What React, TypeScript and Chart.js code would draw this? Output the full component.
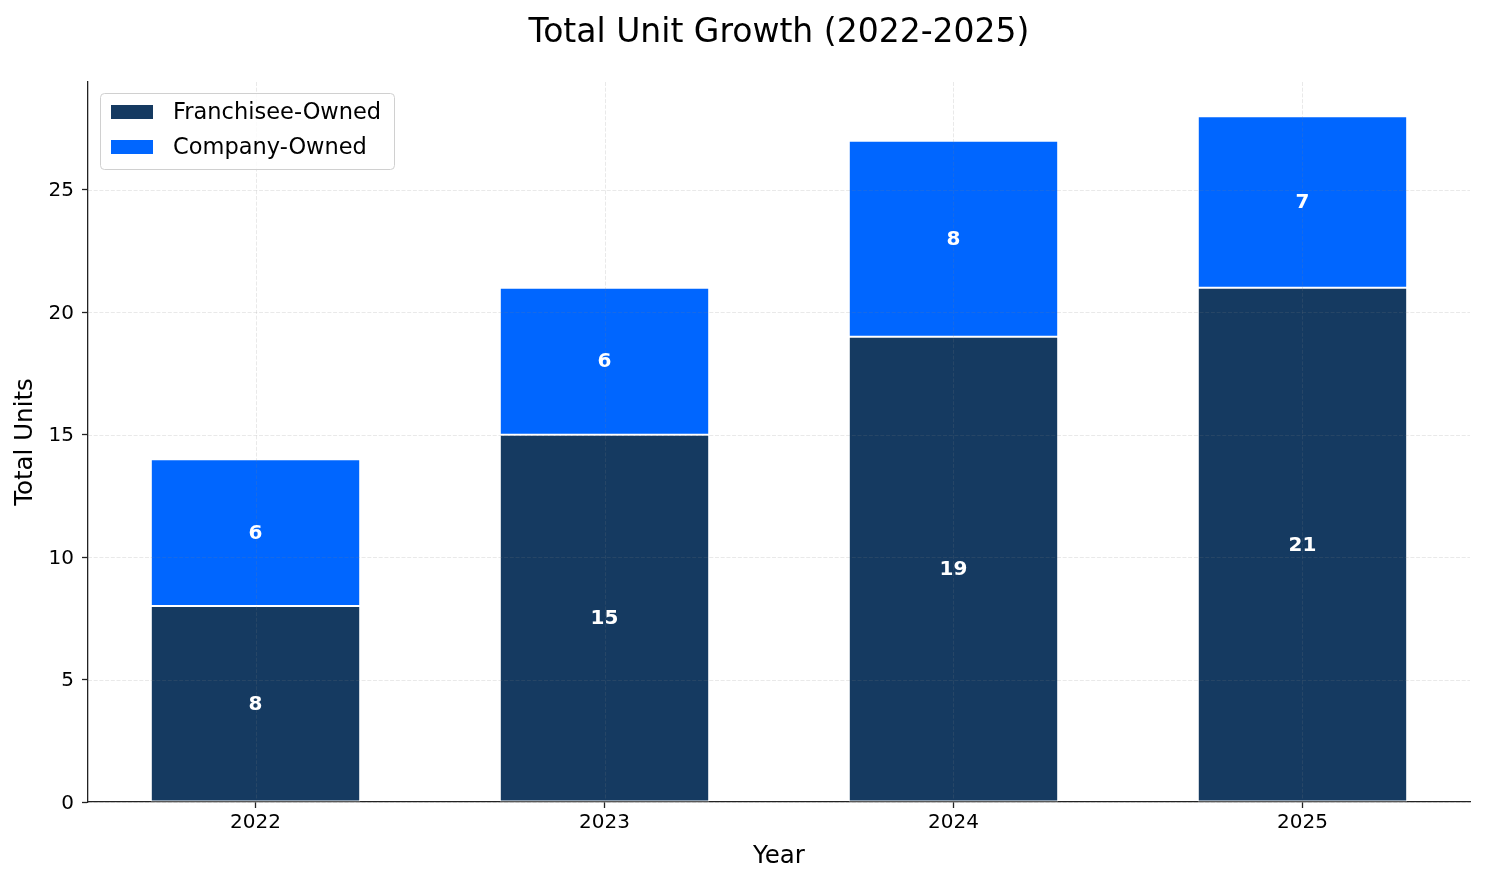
import { useEffect, useRef } from 'react';
import { Chart, registerables } from 'chart.js';

Chart.register(...registerables);

const years = ['2022', '2023', '2024', '2025'];
const franchiseeOwned = [8, 15, 19, 21];
const companyOwned = [6, 6, 8, 7];
const yTicks = [0, 5, 10, 15, 20, 25];

const chartTitle = 'Total Unit Growth (2022-2025)';
const FONT = "'DejaVu Sans', sans-serif";

// grid goes on top of the bars, then the white value labels
const overlayPlugin = {
  id: 'overlay',
  afterDatasetsDraw(chart: any) {
    const { ctx, chartArea, scales } = chart;
    ctx.save();
    ctx.strokeStyle = 'rgba(128,128,128,0.22)';
    ctx.lineWidth = 0.8;
    ctx.setLineDash([4, 1.7]);
    scales.y.ticks.forEach((t: any) => {
      const y = Math.round(scales.y.getPixelForValue(t.value)) + 0.5;
      ctx.beginPath();
      ctx.moveTo(chartArea.left, y);
      ctx.lineTo(chartArea.right, y);
      ctx.stroke();
    });
    scales.x.ticks.forEach((t: any) => {
      const x = Math.round(scales.x.getPixelForValue(t.value)) + 0.5;
      ctx.beginPath();
      ctx.moveTo(x, chartArea.top);
      ctx.lineTo(x, chartArea.bottom);
      ctx.stroke();
    });
    ctx.setLineDash([]);

    ctx.fillStyle = '#fff';
    ctx.font = `bold 20px ${FONT}`;
    ctx.textAlign = 'center';
    ctx.textBaseline = 'middle';
    chart.data.datasets.forEach((ds: any, di: number) => {
      const meta = chart.getDatasetMeta(di);
      meta.data.forEach((bar: any, i: number) => {
        const v = ds.data[i].y;
        ctx.fillText(String(v), bar.x, (bar.y + bar.base) / 2 + 1);
      });
    });
    ctx.restore();
  },
  afterDraw(chart: any) {
    const { ctx, chartArea } = chart;
    ctx.save();
    // title, centred over the plot area
    ctx.fillStyle = '#000';
    ctx.font = `33px ${FONT}`;
    ctx.textAlign = 'center';
    ctx.textBaseline = 'alphabetic';
    ctx.fillText(chartTitle, (chartArea.left + chartArea.right) / 2, 42);

    // legend
    const x0 = chartArea.left + 12;
    const y0 = chartArea.top + 11;
    const w = 294;
    const h = 76;
    ctx.beginPath();
    ctx.roundRect(x0 + 0.5, y0 + 0.5, w, h, 4);
    ctx.fillStyle = 'rgba(255,255,255,0.8)';
    ctx.fill();
    ctx.strokeStyle = '#d0d0d0';
    ctx.lineWidth = 1;
    ctx.stroke();
    ctx.font = `22.5px ${FONT}`;
    ctx.textBaseline = 'middle';
    ctx.textAlign = 'left';
    chart.data.datasets.forEach((ds: any, i: number) => {
      const cy = y0 + 19 + i * 35;
      ctx.fillStyle = ds.backgroundColor;
      ctx.fillRect(x0 + 11, cy - 7, 42, 14);
      ctx.fillStyle = '#000';
      ctx.fillText(ds.label, x0 + 73, cy + 1);
    });
    ctx.restore();
  },
};

const App = () => {
  const chartRef = useRef<HTMLCanvasElement>(null);
  const chartInstance = useRef<Chart | null>(null);

  useEffect(() => {
    document.body.style.margin = '0';
    if (chartRef.current) {
      if (chartInstance.current) {
        chartInstance.current.destroy();
      }

      chartInstance.current = new Chart(chartRef.current, {
        type: 'bar',
        data: {
          datasets: [
            {
              label: 'Franchisee-Owned',
              data: franchiseeOwned.map((v, i) => ({ x: i, y: v })),
              backgroundColor: '#153a61',
              borderColor: '#ffffff',
              borderWidth: 1,
              borderSkipped: false,
              categoryPercentage: 0.6,
              barPercentage: 1,
            },
            {
              label: 'Company-Owned',
              data: companyOwned.map((v, i) => ({ x: i, y: v })),
              backgroundColor: '#0066ff',
              borderColor: '#ffffff',
              borderWidth: 1,
              borderSkipped: false,
              categoryPercentage: 0.6,
              barPercentage: 1,
            },
          ],
        },
        options: {
          responsive: false,
          animation: false,
          layout: { padding: { top: 82, right: 15, bottom: 0, left: 0 } },
          plugins: {
            legend: { display: false },
            tooltip: { enabled: false },
            title: { display: false },
          },
          scales: {
            x: {
              type: 'linear',
              stacked: true,
              offset: false,
              min: -0.48,
              max: 3.48,
              afterBuildTicks: (scale: any) => {
                scale.ticks = years.map((_, i) => ({ value: i }));
              },
              afterFit: (scale: any) => {
                scale.height = 82;
              },
              ticks: {
                callback: (v: any) => years[Number(v)] ?? '',
                color: '#000',
                font: { family: FONT, size: 20 },
                padding: 3,
                maxRotation: 0,
              },
              grid: {
                offset: false,
                drawOnChartArea: false,
                drawTicks: true,
                tickLength: 6,
                tickColor: '#222',
                tickWidth: 1.3,
              },
              border: { color: '#222', width: 1.3 },
              title: {
                display: true,
                text: 'Year',
                color: '#000',
                font: { family: FONT, size: 24.5 },
                padding: { top: 0, bottom: 13 },
              },
            },
            y: {
              stacked: true,
              min: 0,
              max: 29.4,
              afterBuildTicks: (scale: any) => {
                scale.ticks = yTicks.map((v) => ({ value: v }));
              },
              afterFit: (scale: any) => {
                scale.width = 88;
              },
              ticks: {
                color: '#000',
                font: { family: FONT, size: 20 },
                padding: 8,
                labelOffset: 1.5,
              },
              grid: {
                drawOnChartArea: false,
                drawTicks: true,
                tickLength: 6,
                tickColor: '#222',
                tickWidth: 1.3,
              },
              border: { color: '#222', width: 1.3 },
              title: {
                display: true,
                text: 'Total Units',
                color: '#000',
                font: { family: FONT, size: 24.5 },
                padding: { top: 11, bottom: 0 },
              },
            },
          },
        },
        plugins: [overlayPlugin],
      } as any);
    }

    return () => {
      if (chartInstance.current) {
        chartInstance.current.destroy();
        chartInstance.current = null;
      }
    };
  }, []);

  return (
    <div style={{ width: 1485, height: 884 }}>
      <canvas ref={chartRef} width={1485} height={884} style={{ display: 'block' }} />
    </div>
  );
};

export default App;
